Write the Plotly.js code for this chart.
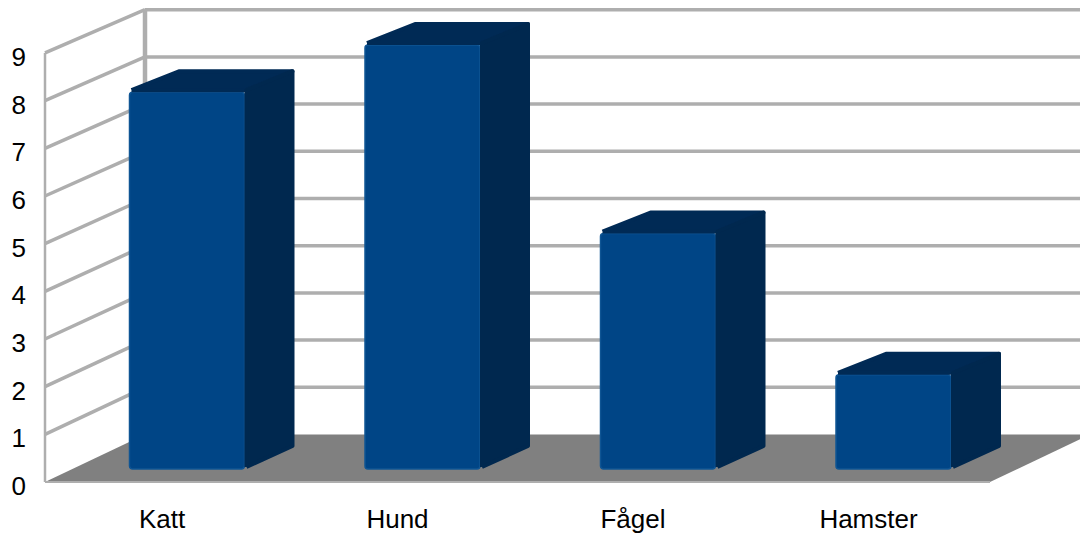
<!DOCTYPE html>
<html><head><meta charset="utf-8">
<script src="https://cdn.plot.ly/plotly-3.0.1.min.js"></script>
<style>
html,body{margin:0;padding:0;background:#fff}
#chart{width:1080px;height:534px}
.scatterlayer .js-line{stroke-linejoin:round}
</style></head><body><div id="chart"></div>
<script>
const categories = ["Katt","Hund","Fågel","Hamster"];
const values = [8,9,5,2];
const yTicks = [0,1,2,3,4,5,6,7,8,9];

const W=1080,H=534;
const pxPerCat=235.5, pxPerUnit=47.67;
const plotL=34, plotB=490;
const xOfPx=p=>1+(p-161)/pxPerCat;
const yOfPx=p=>(482-p)/pxPerUnit;

// oblique projection parameters, in axis units
const wallDX=100/pxPerCat, wallDY=47.5/pxPerUnit;
const backScale=47.2/pxPerUnit, barScale=47.1/pxPerUnit;
const floorL=xOfPx(45), floorR=xOfPx(990);
const barOff=26/pxPerCat, barW=115/pxPerCat;
const barBase=13/pxPerUnit, barDX=50/pxPerCat, barDY=23/pxPerUnit;
const gx=2/pxPerCat, gy=2/pxPerUnit;

const grey='#aeaeae';
const shapes=[];
const ln=(x0,y0,x1,y1,w)=>shapes.push({type:'line',layer:'below',xref:'x',yref:'y',x0,y0,x1,y1,line:{color:grey,width:w}});
const backY=v=>wallDY+v*backScale;
const xMax=xOfPx(W);
yTicks.forEach(v=>{
  if(v>0){
    ln(floorL,v,floorL+wallDX,backY(v),3.5);
    ln(floorL+wallDX,backY(v),xMax,backY(v),3.5);
  }
});
ln(floorL,0,floorL,9,2.5);
ln(floorL+wallDX,backY(0),floorL+wallDX,backY(9),4.5);
shapes.push({type:'path',layer:'below',xref:'x',yref:'y',
  path:`M${floorL},0 L${floorR},0 L${floorR+wallDX},${wallDY} L${floorL+wallDX},${wallDY} Z`,
  fillcolor:'#808080',line:{width:0}});
ln(floorL,0,floorR,0,2);

const traces=[];
const bx=categories.map((c,i)=>i+1+barOff);
const topC='#002a55', sideC='#00284f';

// side and top faces, inset so the rounded stroke lands on the true outline
categories.forEach((c,i)=>{
  const v=values[i], t=barBase+v*barScale, l=bx[i]-barW/2, r=bx[i]+barW/2;
  traces.push({type:'scatter',mode:'lines',fill:'toself',fillcolor:topC,hoverinfo:'skip',showlegend:false,
    x:[l+gx,l+barDX,r+barDX-gx,r+gx,l+gx],
    y:[t+gy,t+barDY-gy,t+barDY-gy,t+gy,t+gy],
    line:{color:topC,width:4}});
  traces.push({type:'scatter',mode:'lines',fill:'toself',fillcolor:sideC,hoverinfo:'skip',showlegend:false,
    x:[r+gx,r+barDX-gx,r+barDX-gx,r+gx,r+gx],
    y:[barBase+gy,barBase+barDY,t+barDY-gy,t+gy,barBase+gy],
    line:{color:sideC,width:4}});
});
// front faces
traces.push({type:'bar',x:bx,y:values.map(v=>v*barScale),base:values.map(()=>barBase),width:barW,
  marker:{color:'#004586',line:{color:'#0f5594',width:1.5}},hoverinfo:'skip',showlegend:false});

const layout={
  width:W,height:H,margin:{l:plotL,r:0,t:0,b:H-plotB,pad:0},
  paper_bgcolor:'#fff',plot_bgcolor:'#fff',showlegend:false,
  barcornerradius:3,
  font:{family:'"Liberation Sans",Arial,sans-serif',size:26,color:'#000'},
  xaxis:{range:[xOfPx(plotL),xMax],tickmode:'array',tickvals:categories.map((c,i)=>i+1),ticktext:categories,
    showgrid:false,zeroline:false,showline:false,ticks:'',ticklabelstandoff:11,ticklabelshift:1,fixedrange:true},
  yaxis:{range:[yOfPx(plotB),yOfPx(0)],tickmode:'array',tickvals:yTicks,ticktext:yTicks.map(String),
    showgrid:false,zeroline:false,showline:false,ticks:'',ticklabelstandoff:7,ticklabelshift:4,fixedrange:true},
  shapes
};
Plotly.newPlot('chart',traces,layout,{displayModeBar:false,staticPlot:true});
</script></body></html>
